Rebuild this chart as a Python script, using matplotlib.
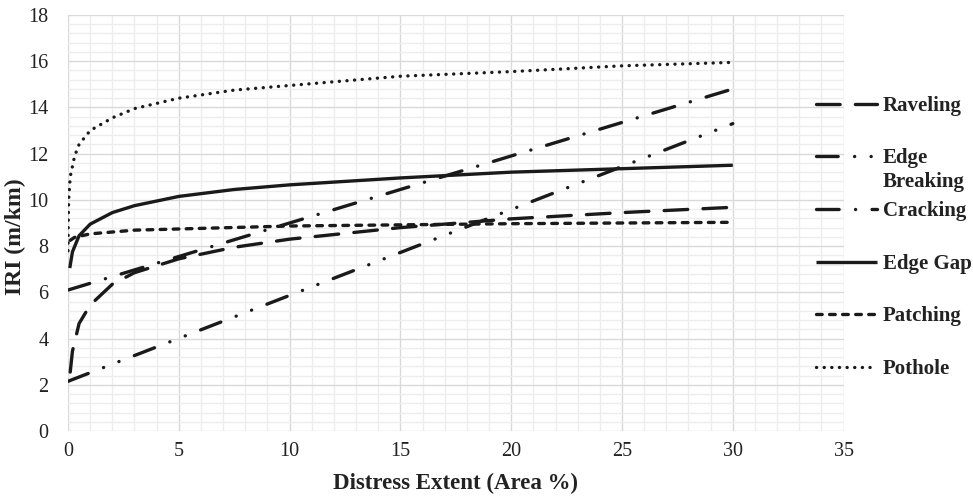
import matplotlib
matplotlib.use("Agg")
import matplotlib.pyplot as plt
from matplotlib.lines import Line2D
from matplotlib.ticker import MultipleLocator

plt.rcParams["font.family"] = ["Liberation Serif", "DejaVu Serif"]
plt.rcParams["lines.scale_dashes"] = False

# values
raveling_x = [0.1, 0.2, 0.5, 1, 2, 3, 5, 7.5, 10, 15, 20, 25, 30]
raveling_y = [2.55, 3.45, 4.65, 5.45, 6.35, 6.85, 7.45, 7.95, 8.3, 8.8, 9.18, 9.45, 9.68]

edge_breaking_x = [0, 30]
edge_breaking_y = [2.15, 13.3]

cracking_x = [0, 30]
cracking_y = [6.1, 14.8]

edge_gap_x = [0.08, 0.2, 0.5, 1, 2, 3, 5, 7.5, 10, 15, 20, 25, 30]
edge_gap_y = [7.05, 7.75, 8.45, 8.95, 9.45, 9.75, 10.15, 10.45, 10.65, 10.95, 11.2, 11.35, 11.5]

patching_x = [0.1, 0.3, 1, 3, 10, 20, 30]
patching_y = [8.25, 8.38, 8.53, 8.69, 8.87, 8.97, 9.03]

pothole_x = [0.002, 0.01, 0.03, 0.1, 0.3, 0.5, 1, 2, 3, 5, 7.5, 10, 15, 20, 25, 30]
pothole_y = [7.8, 9.0, 10.0, 11.0, 11.9, 12.4, 13.0, 13.55, 13.95, 14.4, 14.75, 14.95, 15.35, 15.55, 15.8, 15.95]

labels = ["Raveling", "Edge\nBreaking", "Cracking", "Edge Gap", "Patching", "Pothole"]
series = [(raveling_x, raveling_y), (edge_breaking_x, edge_breaking_y),
          (cracking_x, cracking_y), (edge_gap_x, edge_gap_y),
          (patching_x, patching_y), (pothole_x, pothole_y)]

# dash patterns in points (round caps)
styles = [
    (0, (17.0, 11.0)),
    (0, (15.6, 11.8, 0.1, 11.8, 0.1, 11.8)),
    (0, (16.3, 11.8, 0.1, 11.8)),
    "solid",
    (0, (4.1, 5.3)),
    (0, (0.1, 5.4)),
]

col = "#1a1a1a"
lw = 2.4

fig = plt.figure(figsize=(9.73, 5.03), dpi=100)
ax = fig.add_axes([68 / 973, 1 - 431 / 503, (843.6 - 68) / 973, (431 - 15) / 503])

for (xs, ys), ls in zip(series, styles):
    ax.plot(xs, ys, color=col, lw=lw, linestyle=ls,
            dash_capstyle="round", solid_capstyle="butt")

ax.set_xlim(0, 35)
ax.set_ylim(0, 18)
ax.xaxis.set_major_locator(MultipleLocator(5))
ax.xaxis.set_minor_locator(MultipleLocator(1))
ax.yaxis.set_major_locator(MultipleLocator(2))
ax.yaxis.set_minor_locator(MultipleLocator(0.4))
ax.grid(which="major", color="#d9d9d9", lw=1.0)
ax.grid(which="minor", color="#ededed", lw=1.0)
ax.set_axisbelow(True)
for s in ax.spines.values():
    s.set_visible(False)
ax.tick_params(which="both", length=0)
ax.tick_params(axis="x", pad=8, labelsize=14.5, labelcolor="#222222")
ax.tick_params(axis="y", pad=14, labelsize=14.5, labelcolor="#222222")

ax.set_xlabel("Distress Extent (Area %)", fontsize=16.5, fontweight="bold", color="#222222")
ax.xaxis.set_label_coords(0.5, -(483 - 431) / 416, transform=ax.transAxes)
ax.set_ylabel("IRI (m/km)", fontsize=17, fontweight="bold", color="#222222")
ax.yaxis.set_label_coords(-(68 - 15) / 775.6, (431 - 237) / 416, transform=ax.transAxes)
ax.xaxis.label.set_va("center")
ax.yaxis.label.set_va("center")

# legend drawn by hand so the two-line label keeps the even spacing
for i, (lab, ls) in enumerate(zip(labels, styles)):
    py = 104 + i * 52.5
    fy = 1 - py / 503
    fig.add_artist(Line2D([816 / 973, 877 / 973], [fy, fy], transform=fig.transFigure,
                          color=col, lw=lw, linestyle=ls,
                          dash_capstyle="round", solid_capstyle="butt"))
    for j, part in enumerate(lab.split("\n")):
        fig.text(883 / 973, 1 - (py + 7 + j * 24) / 503, part, fontsize=15,
                 fontweight="bold", color="#222222", va="baseline", ha="left")

fig.savefig("out.png", dpi=100)
